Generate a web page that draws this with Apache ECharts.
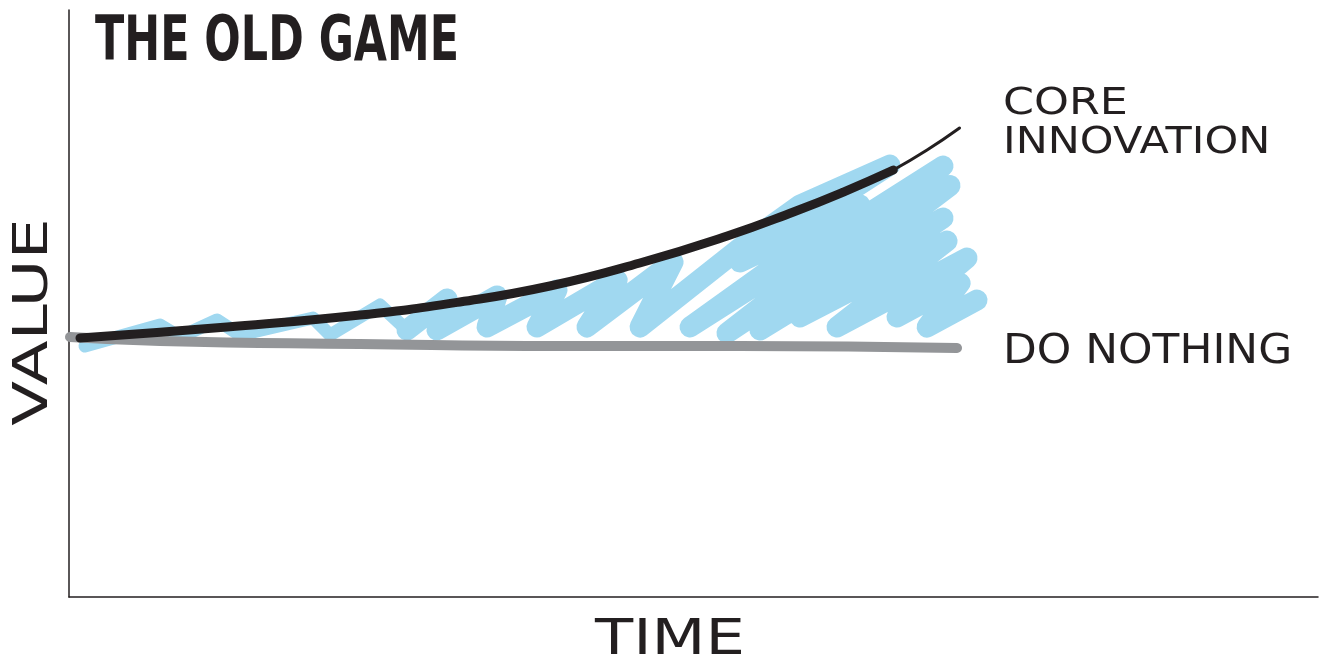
<!DOCTYPE html>
<html>
<head>
<meta charset="utf-8">
<script src="https://cdn.jsdelivr.net/npm/echarts@6/dist/echarts.min.js"></script>
<style>html,body{margin:0;padding:0;background:#fff;}#chart{width:1321px;height:657px;}</style>
</head>
<body>
<div id="chart"></div>
<script>
// ---- data (time 0..100, value 0..100) ----
const titleText = 'THE OLD GAME';
const xAxisName = 'TIME';
const yAxisName = 'VALUE';
const coreLabel = ['CORE', 'INNOVATION'];
const baseLabel = 'DO NOTHING';

const coreTime  = [0.88, 12.65, 23.3, 31.3, 38.5, 45.7, 52.7, 58.0, 62.0, 66.0];
const coreValue = [44.12, 46.0, 48.04, 50.26, 52.98, 56.90, 61.50, 65.59, 68.99, 72.74];
const coreTailTime  = [66.0, 68.7, 71.3];
const coreTailValue = [72.74, 76.15, 79.9];

const baseTime  = [0.08, 7.29, 23.3, 39.3, 53.7, 71.1];
const baseValue = [44.29, 43.61, 43.10, 42.76, 42.76, 42.42];

// blue scribble: early small strokes, then the wide hatching
const gainEarlyTime  = [1.28, 7.29, 8.89, 11.85, 13.69, 19.54, 20.9, 24.9, 27.06];
const gainEarlyValue = [42.76, 46.34, 44.29, 47.19, 44.63, 47.53, 44.63, 49.74, 45.49];
const gainLateTime  = [27.06, 30.26, 29.46, 34.27, 33.47, 39.07, 37.47, 43.88, 41.47, 48.36, 45.72, 53.72, 58.53, 65.73, 53.72, 63.33, 49.72, 69.98, 52.68, 70.54, 55.32, 69.98, 58.53, 70.30, 61.49, 71.90, 66.29, 71.34, 68.70, 72.70];
const gainLateValue = [45.49, 50.77, 45.49, 51.28, 46.00, 52.30, 46.00, 54.00, 46.00, 57.07, 46.00, 59.45, 66.78, 73.59, 57.07, 66.78, 46.00, 73.42, 44.97, 70.09, 45.49, 64.57, 47.70, 60.65, 46.00, 57.75, 47.70, 53.49, 46.00, 50.60];

const zip = (a, b) => a.map((v, i) => [v, b[i]]);

const ink = '#231f20';
const blue = '#a0d8f0';
const chart = echarts.init(document.getElementById('chart'), null, {renderer: 'canvas'});
chart.setOption({
  animation: false,
  backgroundColor: '#ffffff',
  grid: {left: 69, right: 3, top: 10, bottom: 60},
  xAxis: {
    type: 'value', min: 0, max: 100,
    axisLine: {show: true, lineStyle: {color: ink, width: 1.5}},
    axisTick: {show: false}, axisLabel: {show: false}, splitLine: {show: false}
  },
  yAxis: {
    type: 'value', min: 0, max: 100,
    axisLine: {show: true, lineStyle: {color: ink, width: 1.5}},
    axisTick: {show: false}, axisLabel: {show: false}, splitLine: {show: false}
  },
  series: [
    {
      name: 'gain early', type: 'line', data: zip(gainEarlyTime, gainEarlyValue), showSymbol: false,
      lineStyle: {color: blue, width: 13, cap: 'round', join: 'round'}, z: 1
    },
    {
      name: 'gain', type: 'line', data: zip(gainLateTime, gainLateValue), showSymbol: false,
      lineStyle: {color: blue, width: 21, cap: 'round', join: 'round'}, z: 1
    },
    {
      name: baseLabel, type: 'line', data: zip(baseTime, baseValue), showSymbol: false, smooth: true,
      lineStyle: {color: '#939598', width: 10, cap: 'round'}, z: 2
    },
    {
      name: 'core', type: 'line', data: zip(coreTime, coreValue), showSymbol: false, smooth: true,
      lineStyle: {color: ink, width: 9, cap: 'round'}, z: 3
    },
    {
      name: 'coreTail', type: 'line', data: zip(coreTailTime, coreTailValue), showSymbol: false, smooth: true,
      lineStyle: {color: ink, width: 3, cap: 'round'}, z: 3
    }
  ],
  graphic: [
    {type: 'text', x: 95, y: 44, scaleX: 0.67, scaleY: 0.97,
     style: {text: titleText, font: 'bold 64px "DejaVu Sans"', fill: ink, textAlign: 'left', textVerticalAlign: 'middle'}},
    {type: 'text', x: 1003, y: 104.5, scaleX: 1.2,
     style: {text: coreLabel[0], font: '37px "DejaVu Sans"', fill: ink, textAlign: 'left', textVerticalAlign: 'middle'}},
    {type: 'text', x: 1003, y: 143.5, scaleX: 1.16,
     style: {text: coreLabel[1], font: '37px "DejaVu Sans"', fill: ink, textAlign: 'left', textVerticalAlign: 'middle'}},
    {type: 'text', x: 1003, y: 352, scaleX: 1.07,
     style: {text: baseLabel, font: '41px "DejaVu Sans"', fill: ink, textAlign: 'left', textVerticalAlign: 'middle'}},
    {type: 'text', x: 670, y: 641, scaleX: 1.25,
     style: {text: xAxisName, font: '50px "DejaVu Sans"', fill: ink, textAlign: 'center', textVerticalAlign: 'middle'}},
    {type: 'text', x: 35, y: 322, rotation: Math.PI / 2, scaleX: 1.36,
     style: {text: yAxisName, font: '48px "DejaVu Sans"', fill: ink, textAlign: 'center', textVerticalAlign: 'middle'}}
  ]
});
</script>
</body>
</html>
